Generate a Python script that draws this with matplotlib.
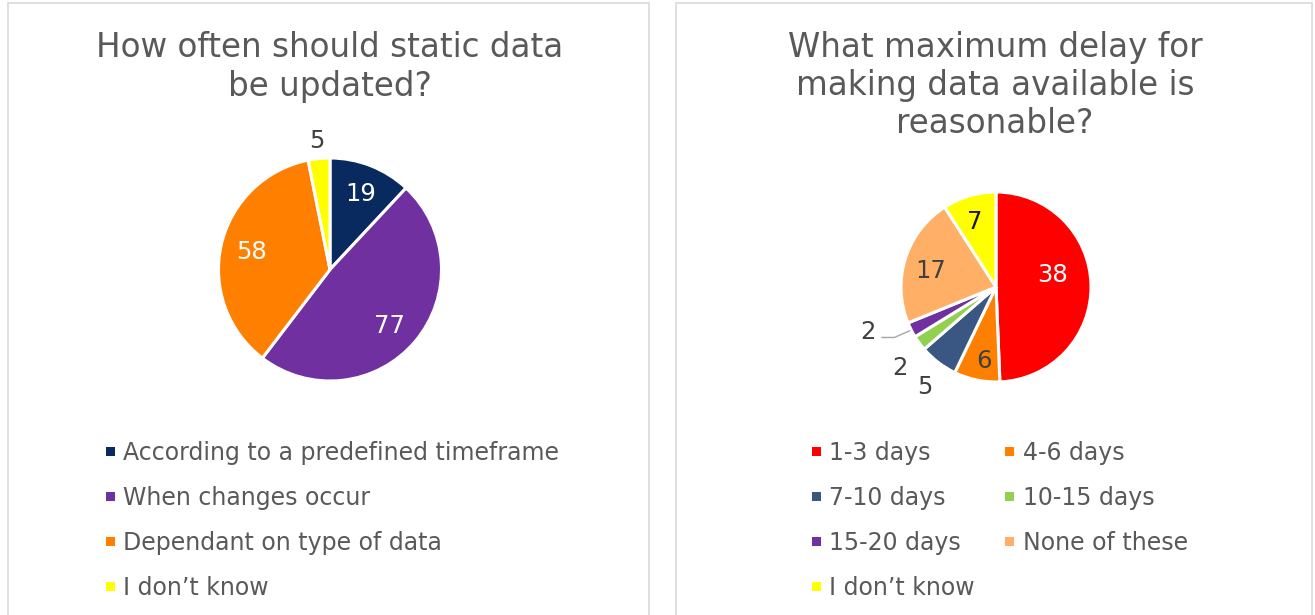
import numpy as np
import matplotlib
matplotlib.use('Agg')
import matplotlib.pyplot as plt
import matplotlib.patches as mpatches

W, H = 1315, 615

# left chart
static_labels = ['According to a predefined timeframe', 'When changes occur',
                 'Dependant on type of data', 'I don\u2019t know']
static_values = [19, 77, 58, 5]
static_colors = ['#082A5E', '#7030A0', '#FF7F00', '#FFFF00']

# right chart
delay_labels = ['1-3 days', '4-6 days', '7-10 days', '10-15 days',
                '15-20 days', 'None of these', 'I don\u2019t know']
delay_values = [38, 6, 5, 2, 2, 17, 7]
delay_colors = ['#FF0000', '#FF7F00', '#3A5783', '#92D050', '#7030A0', '#FFB066', '#FFFF00']

# label placement (radius fraction, angle nudge in deg) and label colours
static_lbl_dist = [0.75, 0.72, 0.73, 1.18]
static_lbl_nudge = [0, -2, -1, 0]
static_lbl_color = ['white', 'white', 'white', '#404040']
delay_lbl_dist = [0.61, 0.76, 1.27, 1.30, 1.42, 0.72, 0.74]
delay_lbl_nudge = [13, 2, 1.5, 3, -8.3, 1.5, 1]
delay_lbl_color = ['white', '#404040', '#404040', '#404040', '#404040', '#404040', '#1a1a1a']

TXT = '#595959'
plt.rcParams['font.family'] = ['DejaVu Sans']

fig = plt.figure(figsize=(W / 100, H / 100), dpi=100)


def pie_axes(cx, cy, r, s):
    ax = fig.add_axes([(cx - s) / W, 1 - (cy + s) / H, 2 * s / W, 2 * s / H])
    return ax, s / r


def draw_pie(ax, lim, values, colors, dist, nudge, tcolors):
    wedges, _ = ax.pie(values, colors=colors, startangle=90, counterclock=False,
                       radius=1, wedgeprops=dict(edgecolor='white', linewidth=2.2))
    ax.set_xlim(-lim, lim)
    ax.set_ylim(-lim, lim)
    ax.set_aspect('equal')
    ax.axis('off')
    mids = []
    for w, v, d, n, c in zip(wedges, values, dist, nudge, tcolors):
        m = np.deg2rad((w.theta1 + w.theta2) / 2 + n)
        mids.append(np.deg2rad((w.theta1 + w.theta2) / 2))
        ax.text(d * np.cos(m), d * np.sin(m), str(v), ha='center', va='center_baseline',
                fontsize=17.5, color=c)
    return mids


# panel borders
for x0, x1 in [(8, 649), (676, 1312)]:
    fig.add_artist(mpatches.Rectangle((x0 / W, -0.05), (x1 - x0) / W, 1.05 - 3 / H,
                                      transform=fig.transFigure, fill=False,
                                      ec='#d9d9d9', lw=1.2))

# titles, one text per line
def title(x, y0, lines):
    for k, line in enumerate(lines):
        fig.text(x / W, 1 - (y0 + 38.3 * k) / H, line, ha='center', va='baseline',
                 fontsize=23.5, color=TXT)


title(330, 57.3, ['How often should static data', 'be updated?'])
title(995, 56.5, ['What maximum delay for', 'making data available is', 'reasonable?'])

# pies
ax1, lim1 = pie_axes(330, 269.5, 111.5, 160)
draw_pie(ax1, lim1, static_values, static_colors, static_lbl_dist, static_lbl_nudge, static_lbl_color)

ax2, lim2 = pie_axes(996, 287, 95, 150)
mids = draw_pie(ax2, lim2, delay_values, delay_colors, delay_lbl_dist, delay_lbl_nudge, delay_lbl_color)

# leader line for the small purple slice
m = mids[4]
end = np.array([np.cos(m), np.sin(m)]) * 1.02
corner = end + np.array([-0.16, -0.07])
start = corner + np.array([-0.13, 0])
pts = np.array([start, corner, end])
ax2.plot(pts[:, 0], pts[:, 1], color='#a6a6a6', lw=1)


# legends
def legend_item(xm, y, color, label):
    sz = 9
    fig.add_artist(mpatches.Rectangle(((xm - sz / 2) / W, 1 - (y + sz / 2) / H), sz / W, sz / H,
                                      transform=fig.transFigure, fc=color, ec='none'))
    fig.text((xm + 13) / W, 1 - (y + 9) / H, label, ha='left', va='baseline',
             fontsize=17, color=TXT)


for i, (lab, col) in enumerate(zip(static_labels, static_colors)):
    legend_item(110, 451 + 45 * i, col, lab)

col_x = [816, 1010]
for i, (lab, col) in enumerate(zip(delay_labels, delay_colors)):
    legend_item(col_x[i % 2], 451 + 45 * (i // 2), col, lab)

plt.savefig('out.png', dpi=100)
